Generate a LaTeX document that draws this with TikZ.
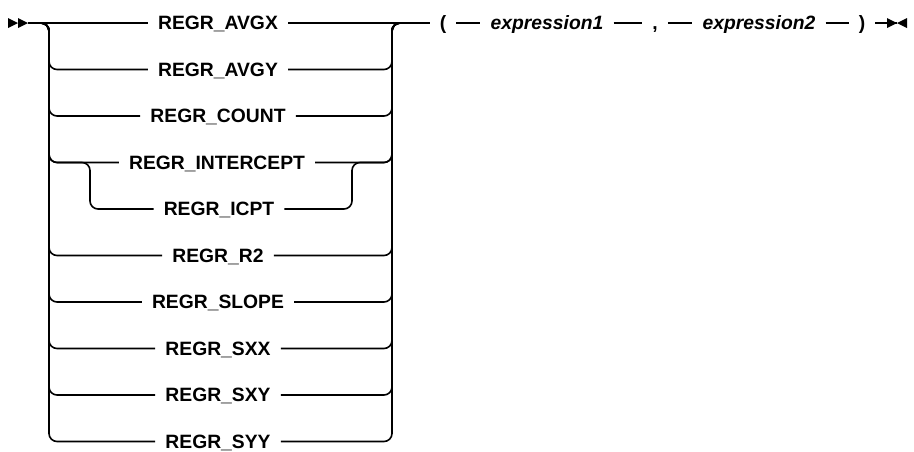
\documentclass[tikz,border=0pt]{standalone}
\usepackage{fontspec}
\setmainfont{Liberation Sans}
\usepackage{tikz}
\usetikzlibrary{positioning}

\begin{document}
\begin{tikzpicture}[
  x=1pt, y=-1pt,
  kw/.style  ={inner xsep=10pt, inner ysep=0pt, text height=13.8pt,
               text depth=0pt, font=\fontsize{19.3}{23}\selectfont\bfseries},
  var/.style ={kw, font=\fontsize{19.3}{23}\selectfont\bfseries\itshape},
  rail/.style={line width=1.6pt, rounded corners=8pt},
  tip/.style ={fill=black, draw=none}
]
\useasboundingbox (0,0) rectangle (914,451);

% choices
\node[kw] (avgx)      at (218,23)    {REGR\_AVGX};
\node[kw] (avgy)      at (218,69.5)  {REGR\_AVGY};
\node[kw] (count)     at (218,116)   {REGR\_COUNT};
\node[kw] (intercept) at (217,162.5) {REGR\_INTERCEPT};
\node[kw] (icpt)      at (219,209)   {REGR\_ICPT};
\node[kw] (rtwo)      at (218,255.5) {REGR\_R2};
\node[kw] (slope)     at (218,302)   {REGR\_SLOPE};
\node[kw] (sxx)       at (218,348.5) {REGR\_SXX};
\node[kw] (sxy)       at (218,395)   {REGR\_SXY};
\node[kw] (syy)       at (218,441.5) {REGR\_SYY};

% arguments
\node[kw]  (lpar)    at (443,23) {(};
\node[var] (exprone) at (547,23) {expression1};
\node[kw]  (comma)   at (655,23) {,};
\node[var] (exprtwo) at (759,23) {expression2};
\node[kw]  (rpar)    at (862,23) {)};

\coordinate (start)  at (28,23);
\coordinate (lsplit) at (49,23);
\coordinate (rjoin)  at (392,23);
\coordinate (isplit) at (90,162.5);
\coordinate (ijoin)  at (352,162.5);
\coordinate (stop)   at (897,23);

% begin / end marks
\fill[tip] (8,18) -- (18,23) -- (8,28) -- cycle;
\fill[tip] (18,18) -- (28,23) -- (18,28) -- cycle;
\fill[tip] (887,18) -- (897,23) -- (887,28) -- cycle;
\fill[tip] (907,18) -- (897,23) -- (907,28) -- cycle;

\draw[rail] (start) -- (avgx.west);
\draw[rail] (avgx.east) -- (lpar.west);
\draw[rail] (start) -- (lsplit) |- (avgy.west);
\draw[rail] (avgy.east) -| (rjoin) -- (lpar.west);
\draw[rail] (start) -- (lsplit) |- (count.west);
\draw[rail] (count.east) -| (rjoin) -- (lpar.west);
\draw[rail] (start) -- (lsplit) |- (intercept.west);
\draw[rail] (intercept.east) -| (rjoin) -- (lpar.west);
\draw[rail] (start) -- (lsplit) |- (isplit) |- (icpt.west);
\draw[rail] (icpt.east) -| (ijoin) -| (rjoin) -- (lpar.west);
\draw[rail] (start) -- (lsplit) |- (rtwo.west);
\draw[rail] (rtwo.east) -| (rjoin) -- (lpar.west);
\draw[rail] (start) -- (lsplit) |- (slope.west);
\draw[rail] (slope.east) -| (rjoin) -- (lpar.west);
\draw[rail] (start) -- (lsplit) |- (sxx.west);
\draw[rail] (sxx.east) -| (rjoin) -- (lpar.west);
\draw[rail] (start) -- (lsplit) |- (sxy.west);
\draw[rail] (sxy.east) -| (rjoin) -- (lpar.west);
\draw[rail] (start) -- (lsplit) |- (syy.west);
\draw[rail] (syy.east) -| (rjoin) -- (lpar.west);

\draw[rail] (lpar.east) -- (exprone.west);
\draw[rail] (exprone.east) -- (comma.west);
\draw[rail] (comma.east) -- (exprtwo.west);
\draw[rail] (exprtwo.east) -- (rpar.west);
\draw[rail] (rpar.east) -- (stop);
\end{tikzpicture}
\end{document}
